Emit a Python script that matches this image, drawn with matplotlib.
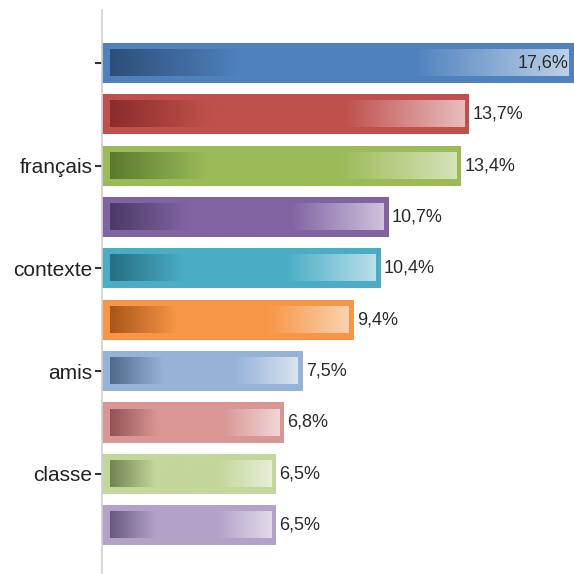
import numpy as np
import matplotlib.pyplot as plt
from matplotlib.colors import LinearSegmentedColormap

# Valeurs (en %) de chaque barre, de haut en bas
valeurs = [17.6, 13.7, 13.4, 10.7, 10.4, 9.4, 7.5, 6.8, 6.5, 6.5]
etiquettes_valeurs = ["17,6%", "13,7%", "13,4%", "10,7%", "10,4%",
                      "9,4%", "7,5%", "6,8%", "6,5%", "6,5%"]

# Seule une barre sur deux porte une étiquette sur l'axe
positions_ticks = [0, 2, 4, 6, 8]
etiquettes_ticks = ["", "français", "contexte", "amis", "classe"]

# Couleurs : base (bordure), foncé (gauche du dégradé), clair (droite)
couleurs_base = ["#4f81bd", "#c0504d", "#9bbb59", "#8064a2", "#4bacc6",
                 "#f79646", "#95b3d7", "#d99694", "#c3d69b", "#b2a2c7"]
couleurs_fonce = ["#2e4e78", "#8a2d2b", "#5c7a2e", "#4b3a66", "#276f82",
                  "#a8561a", "#506a8c", "#925352", "#6f8550", "#66597f"]
couleurs_clair = ["#bcd0e8", "#e8bcbb", "#d5e3b8", "#cec2dc", "#b9dfe9",
                  "#fad2b0", "#d8e3f0", "#f0d6d5", "#e6eed6", "#e0daea"]

plt.rcParams['font.family'] = ['Liberation Sans', 'DejaVu Sans']

fig = plt.figure(figsize=(5.74, 5.74), dpi=100)
ax = fig.add_axes([102 / 574, 0, 1 - 102 / 574, 1 - 10 / 574])

hauteur = 0.78
y = np.arange(len(valeurs))
ax.barh(y, valeurs, height=hauteur, color=couleurs_base, zorder=2)

# Dégradé intérieur de chaque barre
gradient = np.linspace(0, 1, 256).reshape(1, -1)
for i, v in enumerate(valeurs):
    cmap = LinearSegmentedColormap.from_list(
        f"grad{i}",
        [(0, couleurs_fonce[i]), (0.28, couleurs_base[i]),
         (0.66, couleurs_base[i]), (1, couleurs_clair[i])])
    ax.imshow(gradient, cmap=cmap, aspect='auto', interpolation='bilinear',
              extent=(0.3, v - 0.19, i + hauteur / 2 - 0.136, i - hauteur / 2 + 0.136),
              zorder=3)

# Étiquettes de valeur
for i, (v, txt) in enumerate(zip(valeurs, etiquettes_valeurs)):
    if i == 0:
        ax.annotate(txt, (v, i), xytext=(-4, 0), textcoords='offset points',
                    ha='right', va='center', fontsize=13, color='#2a2a2a', zorder=4)
    else:
        ax.annotate(txt, (v, i), xytext=(2, 0), textcoords='offset points',
                    ha='left', va='center', fontsize=13, color='#2a2a2a', zorder=4)

ax.set_xlim(0, 17.6)
ax.set_ylim(9.95, -1.03)

ax.set_yticks(positions_ticks)
ax.set_yticklabels(etiquettes_ticks, fontsize=15, color='#222222')
ax.tick_params(axis='y', length=5, width=1.5, color='#333333', pad=2)
ax.set_xticks([])

for cote in ['top', 'right', 'bottom']:
    ax.spines[cote].set_visible(False)
ax.spines['left'].set_color('#d0d0d0')
ax.spines['left'].set_linewidth(1.2)

fig.savefig("out.png", dpi=100, facecolor='white')
